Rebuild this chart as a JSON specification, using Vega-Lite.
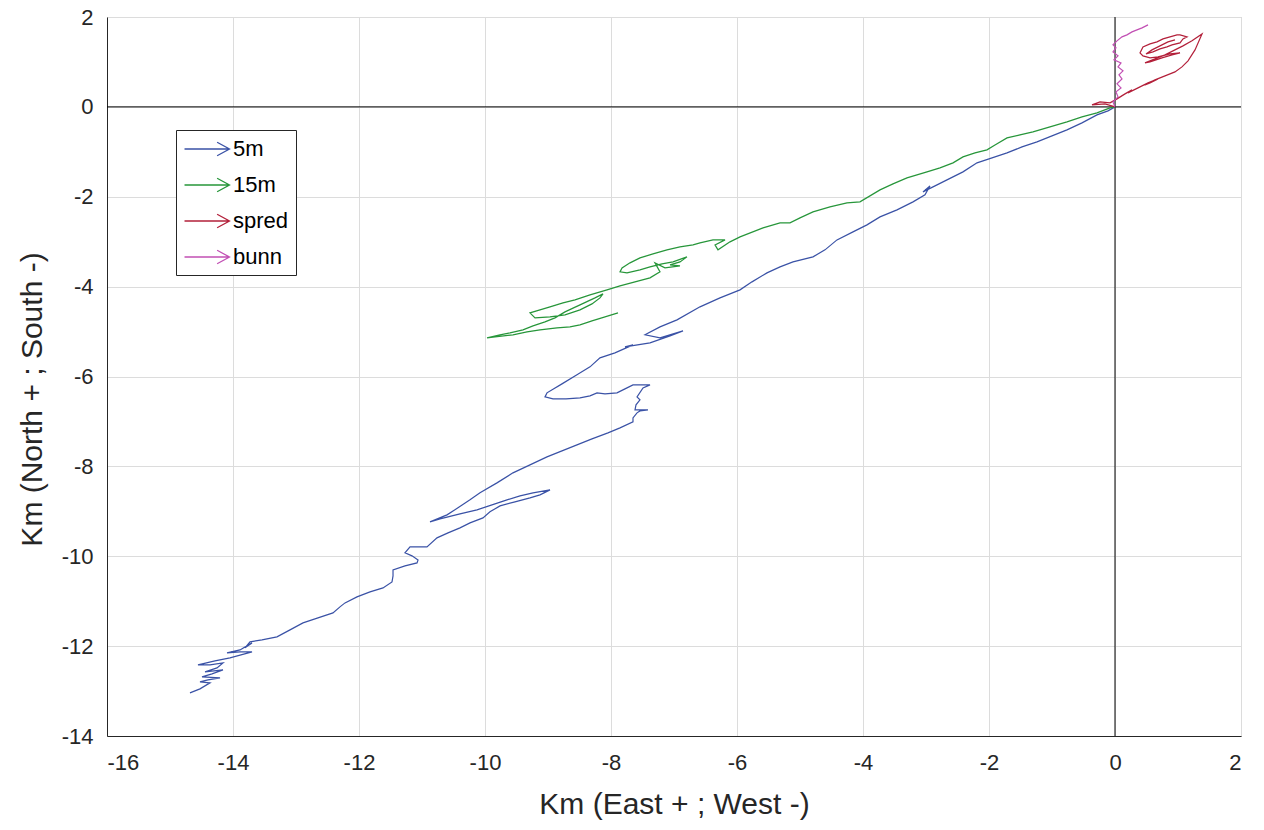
{
  "$schema": "https://vega.github.io/schema/vega-lite/v6.json",
  "autosize": {"type": "none"},
  "width": 1134,
  "height": 719,
  "padding": {"left": 107, "top": 17, "right": 23, "bottom": 94},
  "background": "white",
  "config": {
    "font": "Liberation Sans",
    "view": {"stroke": "#bdbdbd", "strokeWidth": 1},
    "axis": {
      "grid": true,
      "gridColor": "#dcdcdc",
      "gridWidth": 1,
      "domainColor": "#262626",
      "ticks": false,
      "labelFont": "Liberation Sans",
      "labelFontSize": 22,
      "labelColor": "#262626",
      "labelExpr": "'' + datum.value",
      "titleFont": "Liberation Sans",
      "titleFontSize": 30,
      "titleFontWeight": "normal",
      "titleColor": "#262626"
    }
  },
  "layer": [
    {
      "data": {"values": [{"v": 0}]},
      "mark": {"type": "rule", "color": "#000000", "strokeWidth": 1},
      "encoding": {"x": {"field": "v", "type": "quantitative", "scale": {"domain": [-16, 2]}}}
    },
    {
      "data": {"values": [{"v": 0}]},
      "mark": {"type": "rule", "color": "#000000", "strokeWidth": 1},
      "encoding": {"y": {"field": "v", "type": "quantitative", "scale": {"domain": [-14, 2]}}}
    },
    {
      "data": {"values": [
        {"s":"5m","i":1,"x":0,"y":0},{"s":"5m","i":2,"x":-0.111,"y":-0.089},{"s":"5m","i":3,"x":-0.286,"y":-0.178},{"s":"5m","i":4,"x":-0.524,"y":-0.356},{"s":"5m","i":5,"x":-0.762,"y":-0.512},{"s":"5m","i":6,"x":-1.0,"y":-0.645},{"s":"5m","i":7,"x":-1.238,"y":-0.779},{"s":"5m","i":8,"x":-1.476,"y":-0.89},{"s":"5m","i":9,"x":-1.714,"y":-1.024},{"s":"5m","i":10,"x":-1.952,"y":-1.135},{"s":"5m","i":11,"x":-2.19,"y":-1.246},{"s":"5m","i":12,"x":-2.413,"y":-1.446},{"s":"5m","i":13,"x":-2.667,"y":-1.624},{"s":"5m","i":14,"x":-2.825,"y":-1.736},{"s":"5m","i":15,"x":-3.048,"y":-1.891},{"s":"5m","i":16,"x":-2.937,"y":-1.758},{"s":"5m","i":17,"x":-3.016,"y":-1.958},{"s":"5m","i":18,"x":-3.206,"y":-2.114},{"s":"5m","i":19,"x":-3.46,"y":-2.292},{"s":"5m","i":20,"x":-3.73,"y":-2.448},{"s":"5m","i":21,"x":-3.937,"y":-2.626},{"s":"5m","i":22,"x":-4.159,"y":-2.782},{"s":"5m","i":23,"x":-4.413,"y":-2.96},{"s":"5m","i":24,"x":-4.603,"y":-3.182},{"s":"5m","i":25,"x":-4.794,"y":-3.338},{"s":"5m","i":26,"x":-5.111,"y":-3.449},{"s":"5m","i":27,"x":-5.317,"y":-3.56},{"s":"5m","i":28,"x":-5.524,"y":-3.694},{"s":"5m","i":29,"x":-5.762,"y":-3.894},{"s":"5m","i":30,"x":-5.952,"y":-4.072},{"s":"5m","i":31,"x":-6.27,"y":-4.25},{"s":"5m","i":32,"x":-6.587,"y":-4.45},{"s":"5m","i":33,"x":-6.952,"y":-4.74},{"s":"5m","i":34,"x":-7.222,"y":-4.896},{"s":"5m","i":35,"x":-7.46,"y":-5.073},{"s":"5m","i":36,"x":-7.222,"y":-5.14},{"s":"5m","i":37,"x":-6.857,"y":-4.985},{"s":"5m","i":38,"x":-7.063,"y":-5.096},{"s":"5m","i":39,"x":-7.381,"y":-5.252},{"s":"5m","i":40,"x":-7.778,"y":-5.341},{"s":"5m","i":41,"x":-7.651,"y":-5.296},{"s":"5m","i":42,"x":-7.937,"y":-5.474},{"s":"5m","i":43,"x":-8.175,"y":-5.585},{"s":"5m","i":44,"x":-8.333,"y":-5.786},{"s":"5m","i":45,"x":-8.54,"y":-5.963},{"s":"5m","i":46,"x":-8.778,"y":-6.164},{"s":"5m","i":47,"x":-9.016,"y":-6.364},{"s":"5m","i":48,"x":-9.048,"y":-6.453},{"s":"5m","i":49,"x":-8.921,"y":-6.498},{"s":"5m","i":50,"x":-8.714,"y":-6.498},{"s":"5m","i":51,"x":-8.492,"y":-6.475},{"s":"5m","i":52,"x":-8.333,"y":-6.431},{"s":"5m","i":53,"x":-8.222,"y":-6.364},{"s":"5m","i":54,"x":-8.095,"y":-6.386},{"s":"5m","i":55,"x":-7.905,"y":-6.364},{"s":"5m","i":56,"x":-7.778,"y":-6.275},{"s":"5m","i":57,"x":-7.651,"y":-6.186},{"s":"5m","i":58,"x":-7.381,"y":-6.186},{"s":"5m","i":59,"x":-7.492,"y":-6.253},{"s":"5m","i":60,"x":-7.587,"y":-6.453},{"s":"5m","i":61,"x":-7.54,"y":-6.52},{"s":"5m","i":62,"x":-7.603,"y":-6.631},{"s":"5m","i":63,"x":-7.619,"y":-6.743},{"s":"5m","i":64,"x":-7.413,"y":-6.743},{"s":"5m","i":65,"x":-7.54,"y":-6.765},{"s":"5m","i":66,"x":-7.587,"y":-6.809},{"s":"5m","i":67,"x":-7.651,"y":-6.92},{"s":"5m","i":68,"x":-7.651,"y":-7.009},{"s":"5m","i":69,"x":-7.857,"y":-7.143},{"s":"5m","i":70,"x":-8.048,"y":-7.254},{"s":"5m","i":71,"x":-8.302,"y":-7.388},{"s":"5m","i":72,"x":-8.54,"y":-7.521},{"s":"5m","i":73,"x":-8.778,"y":-7.655},{"s":"5m","i":74,"x":-9.016,"y":-7.788},{"s":"5m","i":75,"x":-9.286,"y":-7.966},{"s":"5m","i":76,"x":-9.556,"y":-8.144},{"s":"5m","i":77,"x":-9.81,"y":-8.367},{"s":"5m","i":78,"x":-10.079,"y":-8.589},{"s":"5m","i":79,"x":-10.238,"y":-8.745},{"s":"5m","i":80,"x":-10.429,"y":-8.923},{"s":"5m","i":81,"x":-10.603,"y":-9.079},{"s":"5m","i":82,"x":-10.873,"y":-9.235},{"s":"5m","i":83,"x":-10.714,"y":-9.168},{"s":"5m","i":84,"x":-10.397,"y":-9.057},{"s":"5m","i":85,"x":-10.127,"y":-8.968},{"s":"5m","i":86,"x":-9.889,"y":-8.857},{"s":"5m","i":87,"x":-9.651,"y":-8.745},{"s":"5m","i":88,"x":-9.444,"y":-8.656},{"s":"5m","i":89,"x":-9.238,"y":-8.589},{"s":"5m","i":90,"x":-8.968,"y":-8.523},{"s":"5m","i":91,"x":-9.127,"y":-8.634},{"s":"5m","i":92,"x":-9.286,"y":-8.701},{"s":"5m","i":93,"x":-9.524,"y":-8.79},{"s":"5m","i":94,"x":-9.762,"y":-8.879},{"s":"5m","i":95,"x":-9.921,"y":-9.012},{"s":"5m","i":96,"x":-10.032,"y":-9.146},{"s":"5m","i":97,"x":-10.238,"y":-9.257},{"s":"5m","i":98,"x":-10.397,"y":-9.368},{"s":"5m","i":99,"x":-10.587,"y":-9.479},{"s":"5m","i":100,"x":-10.762,"y":-9.591},{"s":"5m","i":101,"x":-10.921,"y":-9.791},{"s":"5m","i":102,"x":-11.063,"y":-9.791},{"s":"5m","i":103,"x":-11.19,"y":-9.791},{"s":"5m","i":104,"x":-11.27,"y":-9.925},{"s":"5m","i":105,"x":-11.159,"y":-9.991},{"s":"5m","i":106,"x":-11.063,"y":-10.081},{"s":"5m","i":107,"x":-11.079,"y":-10.148},{"s":"5m","i":108,"x":-11.27,"y":-10.215},{"s":"5m","i":109,"x":-11.46,"y":-10.304},{"s":"5m","i":110,"x":-11.46,"y":-10.437},{"s":"5m","i":111,"x":-11.476,"y":-10.571},{"s":"5m","i":112,"x":-11.619,"y":-10.704},{"s":"5m","i":113,"x":-11.825,"y":-10.793},{"s":"5m","i":114,"x":-12.032,"y":-10.904},{"s":"5m","i":115,"x":-12.222,"y":-11.038},{"s":"5m","i":116,"x":-12.302,"y":-11.126},{"s":"5m","i":117,"x":-12.413,"y":-11.26},{"s":"5m","i":118,"x":-12.651,"y":-11.371},{"s":"5m","i":119,"x":-12.889,"y":-11.483},{"s":"5m","i":120,"x":-13.095,"y":-11.638},{"s":"5m","i":121,"x":-13.302,"y":-11.794},{"s":"5m","i":122,"x":-13.54,"y":-11.861},{"s":"5m","i":123,"x":-13.73,"y":-11.905},{"s":"5m","i":124,"x":-13.81,"y":-12.039},{"s":"5m","i":125,"x":-13.698,"y":-11.928},{"s":"5m","i":126,"x":-13.889,"y":-12.084},{"s":"5m","i":127,"x":-14.095,"y":-12.15},{"s":"5m","i":128,"x":-13.889,"y":-12.128},{"s":"5m","i":129,"x":-13.698,"y":-12.128},{"s":"5m","i":130,"x":-14.048,"y":-12.261},{"s":"5m","i":131,"x":-14.286,"y":-12.328},{"s":"5m","i":132,"x":-14.556,"y":-12.417},{"s":"5m","i":133,"x":-14.365,"y":-12.417},{"s":"5m","i":134,"x":-14.159,"y":-12.372},{"s":"5m","i":135,"x":-14.254,"y":-12.484},{"s":"5m","i":136,"x":-14.444,"y":-12.573},{"s":"5m","i":137,"x":-14.159,"y":-12.528},{"s":"5m","i":138,"x":-14.333,"y":-12.617},{"s":"5m","i":139,"x":-14.492,"y":-12.684},{"s":"5m","i":140,"x":-14.206,"y":-12.706},{"s":"5m","i":141,"x":-14.397,"y":-12.751},{"s":"5m","i":142,"x":-14.524,"y":-12.795},{"s":"5m","i":143,"x":-14.365,"y":-12.817},{"s":"5m","i":144,"x":-14.524,"y":-12.951},{"s":"5m","i":145,"x":-14.683,"y":-13.04},

        {"s":"15m","i":1,"x":0,"y":0},{"s":"15m","i":2,"x":-0.079,"y":-0.022},{"s":"15m","i":3,"x":-0.286,"y":-0.134},{"s":"15m","i":4,"x":-0.524,"y":-0.223},{"s":"15m","i":5,"x":-0.762,"y":-0.334},{"s":"15m","i":6,"x":-1.032,"y":-0.445},{"s":"15m","i":7,"x":-1.302,"y":-0.556},{"s":"15m","i":8,"x":-1.508,"y":-0.623},{"s":"15m","i":9,"x":-1.714,"y":-0.69},{"s":"15m","i":10,"x":-1.905,"y":-0.846},{"s":"15m","i":11,"x":-2.032,"y":-0.957},{"s":"15m","i":12,"x":-2.222,"y":-1.024},{"s":"15m","i":13,"x":-2.413,"y":-1.113},{"s":"15m","i":14,"x":-2.571,"y":-1.246},{"s":"15m","i":15,"x":-2.778,"y":-1.357},{"s":"15m","i":16,"x":-2.984,"y":-1.446},{"s":"15m","i":17,"x":-3.302,"y":-1.58},{"s":"15m","i":18,"x":-3.524,"y":-1.713},{"s":"15m","i":19,"x":-3.73,"y":-1.847},{"s":"15m","i":20,"x":-4.048,"y":-2.114},{"s":"15m","i":21,"x":-4.254,"y":-2.136},{"s":"15m","i":22,"x":-4.524,"y":-2.225},{"s":"15m","i":23,"x":-4.794,"y":-2.336},{"s":"15m","i":24,"x":-5.0,"y":-2.47},{"s":"15m","i":25,"x":-5.159,"y":-2.581},{"s":"15m","i":26,"x":-5.317,"y":-2.581},{"s":"15m","i":27,"x":-5.587,"y":-2.693},{"s":"15m","i":28,"x":-5.952,"y":-2.893},{"s":"15m","i":29,"x":-6.111,"y":-3.004},{"s":"15m","i":30,"x":-6.302,"y":-3.182},{"s":"15m","i":31,"x":-6.349,"y":-3.071},{"s":"15m","i":32,"x":-6.19,"y":-2.96},{"s":"15m","i":33,"x":-6.381,"y":-2.96},{"s":"15m","i":34,"x":-6.587,"y":-3.026},{"s":"15m","i":35,"x":-6.698,"y":-3.071},{"s":"15m","i":36,"x":-6.905,"y":-3.115},{"s":"15m","i":37,"x":-7.111,"y":-3.182},{"s":"15m","i":38,"x":-7.333,"y":-3.271},{"s":"15m","i":39,"x":-7.54,"y":-3.36},{"s":"15m","i":40,"x":-7.698,"y":-3.471},{"s":"15m","i":41,"x":-7.825,"y":-3.583},{"s":"15m","i":42,"x":-7.857,"y":-3.672},{"s":"15m","i":43,"x":-7.746,"y":-3.694},{"s":"15m","i":44,"x":-7.54,"y":-3.627},{"s":"15m","i":45,"x":-7.381,"y":-3.56},{"s":"15m","i":46,"x":-7.19,"y":-3.494},{"s":"15m","i":47,"x":-7.016,"y":-3.449},{"s":"15m","i":48,"x":-6.794,"y":-3.338},{"s":"15m","i":49,"x":-6.905,"y":-3.449},{"s":"15m","i":50,"x":-7.063,"y":-3.516},{"s":"15m","i":51,"x":-6.905,"y":-3.538},{"s":"15m","i":52,"x":-7.143,"y":-3.583},{"s":"15m","i":53,"x":-7.302,"y":-3.471},{"s":"15m","i":54,"x":-7.222,"y":-3.672},{"s":"15m","i":55,"x":-7.381,"y":-3.805},{"s":"15m","i":56,"x":-7.619,"y":-3.894},{"s":"15m","i":57,"x":-7.857,"y":-3.983},{"s":"15m","i":58,"x":-8.063,"y":-4.072},{"s":"15m","i":59,"x":-8.333,"y":-4.183},{"s":"15m","i":60,"x":-8.571,"y":-4.295},{"s":"15m","i":61,"x":-8.762,"y":-4.361},{"s":"15m","i":62,"x":-8.968,"y":-4.45},{"s":"15m","i":63,"x":-9.127,"y":-4.517},{"s":"15m","i":64,"x":-9.286,"y":-4.584},{"s":"15m","i":65,"x":-9.206,"y":-4.695},{"s":"15m","i":66,"x":-8.968,"y":-4.673},{"s":"15m","i":67,"x":-8.73,"y":-4.628},{"s":"15m","i":68,"x":-8.492,"y":-4.517},{"s":"15m","i":69,"x":-8.302,"y":-4.384},{"s":"15m","i":70,"x":-8.175,"y":-4.25},{"s":"15m","i":71,"x":-8.127,"y":-4.161},{"s":"15m","i":72,"x":-8.254,"y":-4.25},{"s":"15m","i":73,"x":-8.492,"y":-4.406},{"s":"15m","i":74,"x":-8.73,"y":-4.562},{"s":"15m","i":75,"x":-8.889,"y":-4.695},{"s":"15m","i":76,"x":-9.048,"y":-4.784},{"s":"15m","i":77,"x":-9.238,"y":-4.873},{"s":"15m","i":78,"x":-9.397,"y":-4.962},{"s":"15m","i":79,"x":-9.603,"y":-5.029},{"s":"15m","i":80,"x":-9.762,"y":-5.073},{"s":"15m","i":81,"x":-9.968,"y":-5.14},{"s":"15m","i":82,"x":-9.841,"y":-5.118},{"s":"15m","i":83,"x":-9.556,"y":-5.073},{"s":"15m","i":84,"x":-9.333,"y":-5.007},{"s":"15m","i":85,"x":-9.127,"y":-4.962},{"s":"15m","i":86,"x":-8.857,"y":-4.918},{"s":"15m","i":87,"x":-8.651,"y":-4.895},{"s":"15m","i":88,"x":-8.492,"y":-4.851},{"s":"15m","i":89,"x":-8.302,"y":-4.762},{"s":"15m","i":90,"x":-8.095,"y":-4.673},{"s":"15m","i":91,"x":-7.889,"y":-4.584},

        {"s":"spred","i":1,"x":0,"y":0},{"s":"spred","i":2,"x":-0.159,"y":0.067},{"s":"spred","i":3,"x":-0.365,"y":0.045},{"s":"spred","i":4,"x":-0.238,"y":0.111},{"s":"spred","i":5,"x":-0.079,"y":0.089},{"s":"spred","i":6,"x":0.032,"y":0.178},{"s":"spred","i":7,"x":0.159,"y":0.289},{"s":"spred","i":8,"x":0.27,"y":0.378},{"s":"spred","i":9,"x":0.206,"y":0.312},{"s":"spred","i":10,"x":0.365,"y":0.423},{"s":"spred","i":11,"x":0.524,"y":0.534},{"s":"spred","i":12,"x":0.683,"y":0.623},{"s":"spred","i":13,"x":0.556,"y":0.534},{"s":"spred","i":14,"x":0.476,"y":0.49},{"s":"spred","i":15,"x":0.635,"y":0.601},{"s":"spred","i":16,"x":0.794,"y":0.69},{"s":"spred","i":17,"x":0.952,"y":0.779},{"s":"spred","i":18,"x":1.063,"y":0.89},{"s":"spred","i":19,"x":1.159,"y":1.024},{"s":"spred","i":20,"x":1.27,"y":1.268},{"s":"spred","i":21,"x":1.381,"y":1.624},{"s":"spred","i":22,"x":1.222,"y":1.469},{"s":"spred","i":23,"x":1.079,"y":1.357},{"s":"spred","i":24,"x":0.952,"y":1.268},{"s":"spred","i":25,"x":0.794,"y":1.157},{"s":"spred","i":26,"x":0.635,"y":1.068},{"s":"spred","i":27,"x":0.476,"y":0.979},{"s":"spred","i":28,"x":0.556,"y":1.001},{"s":"spred","i":29,"x":0.746,"y":1.09},{"s":"spred","i":30,"x":0.905,"y":1.157},{"s":"spred","i":31,"x":1.032,"y":1.202},{"s":"spred","i":32,"x":0.873,"y":1.179},{"s":"spred","i":33,"x":0.683,"y":1.113},{"s":"spred","i":34,"x":0.556,"y":1.09},{"s":"spred","i":35,"x":0.444,"y":1.135},{"s":"spred","i":36,"x":0.397,"y":1.202},{"s":"spred","i":37,"x":0.444,"y":1.335},{"s":"spred","i":38,"x":0.556,"y":1.402},{"s":"spred","i":39,"x":0.667,"y":1.446},{"s":"spred","i":40,"x":0.762,"y":1.513},{"s":"spred","i":41,"x":0.873,"y":1.558},{"s":"spred","i":42,"x":0.984,"y":1.602},{"s":"spred","i":43,"x":1.032,"y":1.602},{"s":"spred","i":44,"x":1.143,"y":1.558},{"s":"spred","i":45,"x":1.079,"y":1.513},{"s":"spred","i":46,"x":1.032,"y":1.424},{"s":"spred","i":47,"x":0.905,"y":1.38},{"s":"spred","i":48,"x":0.825,"y":1.335},{"s":"spred","i":49,"x":0.714,"y":1.291},{"s":"spred","i":50,"x":0.603,"y":1.224},{"s":"spred","i":51,"x":0.492,"y":1.179},{"s":"spred","i":52,"x":0.587,"y":1.268},{"s":"spred","i":53,"x":0.714,"y":1.357},{"s":"spred","i":54,"x":0.841,"y":1.446},{"s":"spred","i":55,"x":0.952,"y":1.491},

        {"s":"bunn","i":1,"x":0,"y":0},{"s":"bunn","i":2,"x":-0.032,"y":0.111},{"s":"bunn","i":3,"x":0.048,"y":0.223},{"s":"bunn","i":4,"x":0.016,"y":0.334},{"s":"bunn","i":5,"x":0.095,"y":0.423},{"s":"bunn","i":6,"x":0.032,"y":0.512},{"s":"bunn","i":7,"x":0.111,"y":0.623},{"s":"bunn","i":8,"x":0.063,"y":0.712},{"s":"bunn","i":9,"x":0.127,"y":0.801},{"s":"bunn","i":10,"x":0.048,"y":0.89},{"s":"bunn","i":11,"x":0.095,"y":0.979},{"s":"bunn","i":12,"x":-0.016,"y":1.046},{"s":"bunn","i":13,"x":0.048,"y":1.135},{"s":"bunn","i":14,"x":-0.032,"y":1.224},{"s":"bunn","i":15,"x":0.016,"y":1.313},{"s":"bunn","i":16,"x":-0.032,"y":1.38},{"s":"bunn","i":17,"x":0.032,"y":1.469},{"s":"bunn","i":18,"x":0.111,"y":1.558},{"s":"bunn","i":19,"x":0.19,"y":1.602},{"s":"bunn","i":20,"x":0.27,"y":1.669},{"s":"bunn","i":21,"x":0.349,"y":1.713},{"s":"bunn","i":22,"x":0.429,"y":1.758},{"s":"bunn","i":23,"x":0.524,"y":1.824}
      ]},
      "mark": {"type": "line", "strokeWidth": 1.2, "clip": true},
      "encoding": {
        "x": {"field": "x", "type": "quantitative",
              "scale": {"domain": [-16, 2], "nice": false, "zero": false},
              "axis": {"values": [-16,-14,-12,-10,-8,-6,-4,-2,0,2], "title": "Km (East + ; West -)", "labelPadding": 16, "titlePadding": 16}},
        "y": {"field": "y", "type": "quantitative",
              "scale": {"domain": [-14, 2], "nice": false, "zero": false},
              "axis": {"values": [-14,-12,-10,-8,-6,-4,-2,0,2], "title": "Km (North + ; South -)", "labelPadding": 14, "titlePadding": 14, "titleY": 382}},
        "order": {"field": "i", "type": "quantitative"},
        "detail": {"field": "s"},
        "color": {"field": "s", "type": "nominal",
                  "scale": {"domain": ["5m", "15m", "spred", "bunn"], "range": ["#3A52A6", "#27963A", "#B3203A", "#C250B4"]},
                  "legend": {
                    "title": null,
                    "orient": "none",
                    "legendX": 69,
                    "legendY": 113,
                    "symbolType": "M-2,0L2,0M0.9,-0.6L2,0L0.9,0.6",
                    "symbolSize": 506,
                    "symbolOffset": 12,
                    "symbolStrokeWidth": 1.3,
                    "symbolFillColor": "transparent",
                    "labelFontSize": 22,
                    "labelFont": "Liberation Sans",
                    "labelColor": "#000000",
                    "labelOffset": 14,
                    "rowPadding": 13,
                    "padding": 7,
                    "strokeColor": "#262626",
                    "fillColor": "#ffffff"
                  }}
      }
    }
  ]
}
